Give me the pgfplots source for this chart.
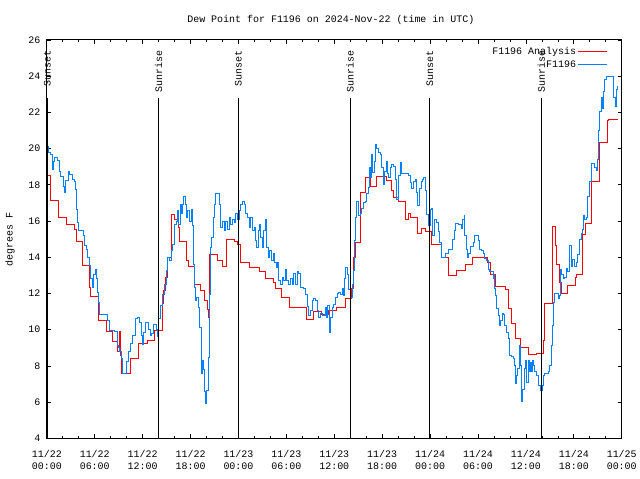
\documentclass[border=0pt]{standalone}
\usepackage{fontspec}
\setmainfont{Liberation Mono}
\setmonofont{Liberation Mono}
\usepackage{pgfplots}
\pgfplotsset{compat=1.18}
\usepackage{pgfplotstable}
\definecolor{obsblue}{RGB}{0,128,255}

% hours since 11/22 00:00 UTC, dew point in F
\pgfplotstableread{
h v
0.0 18.5
0.5 17.14
1.5 16.19
2.5 15.82
3.5 15.55
3.71 14.87
4.5 13.53
5.3 12.34
5.5 11.86
6.45 10.5
7.5 9.9
8.25 9.33
8.9 8.77
9.1 9.9
9.23 8.58
9.36 7.57
10.5 8.4
11.5 9.22
12.57 9.41
13.48 9.96
14.44 11.42
14.6 12.16
14.85 12.9
15.14 14.0
15.6 16.34
15.97 16.1
16.45 15.64
16.6 14.87
17.45 13.8
17.72 13.48
18.47 12.52
19.3 12.16
19.72 11.6
20.09 11.1
20.3 10.7
20.42 14.17
21.38 13.84
21.96 13.5
22.46 15.0
23.46 14.85
23.9 14.7
24.29 13.72
25.33 13.44
26.58 13.22
27.41 12.8
28.45 12.62
28.7 12.3
29.45 11.79
30.45 11.2
32.57 10.54
33.38 10.98
34.44 10.84
35.31 11.06
36.31 11.2
37.4 11.7
38.1 12.3
38.35 14.0
38.65 14.8
39.34 17.6
39.89 18.4
40.52 17.93
41.34 18.48
42.55 18.24
43.17 17.7
43.42 17.3
44.05 17.05
44.92 16.1
45.3 16.4
45.55 16.2
46.36 15.33
46.92 15.6
47.42 15.42
48.23 14.72
49.41 14.0
50.29 13.02
51.29 13.26
52.41 13.62
53.28 14.0
55.15 13.7
55.53 13.07
56.21 12.4
57.4 12.2
57.78 11.15
58.15 10.32
58.65 9.5
59.34 9.0
60.27 8.64
61.27 8.71
62.14 9.4
62.35 11.42
63.32 15.68
63.73 14.63
63.89 13.62
64.26 12.62
64.42 12.0
65.26 12.43
66.22 12.89
66.39 13.07
67.13 15.27
67.47 15.86
68.17 18.2
69.22 20.32
70.25 21.54
70.4 21.6
71.5 21.6
}\analysis

\pgfplotstableread{
h v
0.09 20.13
0.25 19.77
0.46 19.67
0.66 18.85
0.79 19.31
1.0 19.5
1.34 19.36
1.53 18.76
1.75 18.48
2.03 17.93
2.16 17.57
2.33 18.21
2.66 18.76
2.87 18.57
3.16 18.3
3.41 18.2
3.58 17.75
3.71 16.65
3.83 15.92
3.91 15.46
4.40 15.46
4.53 15.18
4.74 14.63
4.95 14.45
5.15 14.0
5.37 13.53
5.49 12.8
5.70 12.34
5.86 13.07
6.08 13.35
6.20 12.8
6.33 12.07
6.49 11.52
6.61 10.82
7.24 10.82
7.65 10.5
7.86 9.96
8.49 9.9
8.82 9.13
8.98 9.0
9.15 8.77
9.32 8.4
9.45 7.57
9.86 7.57
10.02 8.22
10.23 8.77
10.48 9.22
10.77 9.68
11.07 10.6
11.32 10.7
11.60 10.4
11.82 9.7
11.94 9.2
12.10 9.86
12.32 10.4
12.52 10.4
12.73 10.0
12.98 9.7
13.14 9.8
13.39 10.3
13.60 10.3
13.76 10.0
13.89 9.6
14.01 10.6
14.23 11.35
14.51 11.97
14.72 12.52
14.94 13.26
15.14 14.0
15.35 13.8
15.56 14.36
15.76 14.72
15.97 15.82
16.18 16.0
16.38 16.56
16.51 15.8
16.68 16.92
16.81 16.4
17.01 16.9
17.13 17.33
17.31 16.9
17.43 16.19
17.63 16.56
17.84 16.0
18.06 16.65
18.26 15.73
18.38 13.62
18.55 12.34
18.68 11.6
18.80 11.8
18.97 11.24
19.18 10.14
19.34 8.49
19.43 7.57
19.50 8.3
19.63 7.8
19.80 6.57
19.93 5.92
20.05 6.65
20.21 8.49
20.34 11.97
20.46 14.54
20.63 15.09
20.84 16.19
21.00 16.92
21.18 17.5
21.37 17.5
21.59 16.9
21.80 15.64
22.00 16.0
22.21 15.46
22.42 16.0
22.62 15.55
22.84 16.2
23.05 15.82
23.25 16.1
23.46 15.9
23.67 16.4
23.87 16.1
24.08 16.56
24.29 16.9
24.49 17.1
24.71 16.9
24.92 16.4
25.12 16.2
25.33 15.64
25.54 16.2
25.74 15.46
25.95 15.64
26.17 14.9
26.29 14.55
26.45 15.46
26.58 15.82
26.79 15.09
26.99 14.54
27.12 15.46
27.33 16.1
27.49 14.54
27.70 14.0
27.91 14.36
28.11 13.8
28.33 14.2
28.54 13.7
28.79 13.43
28.95 13.7
29.07 12.7
29.29 12.5
29.49 12.9
29.70 12.7
29.91 13.35
30.03 12.7
30.32 12.5
30.53 12.8
30.73 12.5
30.95 13.1
31.16 12.5
31.36 13.2
31.57 13.1
31.78 12.33
32.11 12.3
32.41 11.97
32.61 11.3
32.82 10.78
33.03 11.05
33.23 11.6
33.44 11.7
33.65 11.6
33.85 11.05
34.07 10.7
34.28 10.9
34.48 10.78
34.90 11.2
35.03 10.7
35.19 11.35
35.40 9.87
35.53 10.7
35.72 11.2
35.94 11.4
36.15 11.8
36.35 12.0
36.56 12.04
36.77 11.97
36.97 12.3
37.10 11.87
37.27 12.8
37.43 13.44
37.60 13.07
37.81 12.2
38.02 11.8
38.22 12.5
38.35 13.26
38.52 14.9
38.68 16.19
38.84 17.1
39.06 16.3
39.27 16.4
39.47 16.7
39.68 17.0
39.89 17.1
40.09 17.5
40.30 17.84
40.43 18.94
40.59 18.4
40.72 19.67
40.84 18.7
41.02 19.3
41.14 20.22
41.34 20.0
41.55 19.8
41.76 19.67
41.96 18.94
42.18 18.0
42.30 18.76
42.51 19.3
42.67 18.6
42.84 18.4
43.01 18.94
43.21 19.1
43.42 19.03
43.64 18.3
43.84 17.2
44.05 18.5
44.26 19.22
44.46 18.6
45.08 18.6
45.30 18.5
45.51 18.1
45.71 17.8
45.92 18.2
46.13 18.3
46.33 17.6
46.46 16.83
46.63 17.8
46.88 18.2
47.04 18.3
47.20 18.4
47.38 17.7
47.58 16.37
47.79 15.73
48.00 16.65
48.20 16.7
48.32 15.18
48.54 16.1
48.70 16.1
48.83 15.9
49.04 15.4
49.16 14.82
49.38 14.64
49.45 14.0
49.78 14.0
49.95 14.2
50.29 14.45
50.62 14.45
50.79 15.0
51.04 15.46
51.20 15.88
51.53 15.8
51.87 15.75
51.95 15.6
52.07 16.1
52.25 16.28
52.37 15.18
52.57 14.45
52.70 14.0
52.87 14.2
53.07 14.6
53.28 14.6
53.41 14.82
53.62 15.18
53.82 15.18
54.03 14.9
54.24 14.45
54.44 14.36
54.65 14.2
54.87 13.94
55.07 13.8
55.28 13.35
55.49 13.2
55.69 13.2
55.90 12.8
56.03 13.05
56.11 12.25
56.24 11.88
56.36 11.15
56.53 10.78
56.65 10.23
56.86 10.5
57.03 10.9
57.24 10.85
57.36 10.23
57.56 9.87
57.78 9.5
57.90 8.58
58.19 8.5
58.40 8.4
58.52 8.03
58.68 7.02
58.81 7.5
58.93 7.85
59.15 9.13
59.27 8.0
59.43 6.02
59.56 6.7
59.77 7.85
59.93 8.3
60.06 7.1
60.27 8.3
60.39 7.67
60.56 8.2
60.68 7.7
60.81 8.3
60.98 8.0
61.11 7.67
61.30 7.5
61.43 7.5
61.60 6.93
61.85 6.66
62.02 6.93
62.14 7.5
62.35 7.6
62.77 7.67
62.98 8.0
63.18 9.13
63.30 10.23
63.48 11.52
63.60 11.98
64.01 11.98
64.14 11.7
64.26 11.9
64.35 13.35
64.51 13.07
64.67 12.8
64.85 12.9
65.05 13.4
65.26 13.2
65.47 14.67
65.67 13.5
65.88 13.9
66.10 13.5
66.30 13.7
66.51 14.17
66.72 15.0
66.92 15.3
67.05 15.55
67.22 16.28
67.35 16.1
67.54 16.2
67.76 17.38
67.97 18.2
68.17 19.2
68.38 19.2
68.59 18.95
68.79 18.8
69.00 19.4
69.13 21.0
69.22 22.06
69.42 22.8
69.55 22.2
69.72 23.16
69.84 23.8
70.13 23.98
70.87 24.0
71.00 22.8
71.16 22.33
71.29 23.25
71.50 23.43
}\observed

\begin{document}
\begin{tikzpicture}
\begin{axis}[
  scale only axis, width=577pt, height=400pt,
  xmin=0, xmax=72, ymin=4, ymax=26,
  xtick={0,6,...,72}, minor x tick num=2,
  xticklabels={{11/22\\00:00},{11/22\\06:00},{11/22\\12:00},{11/22\\18:00},
    {11/23\\00:00},{11/23\\06:00},{11/23\\12:00},{11/23\\18:00},
    {11/24\\00:00},{11/24\\06:00},{11/24\\12:00},{11/24\\18:00},{11/25\\00:00}},
  xticklabel style={align=center, font=\fontsize{10}{12}\selectfont, yshift=-8pt},
  ytick={4,6,...,26},
  yticklabel style={font=\fontsize{10}{12}\selectfont, xshift=-3pt},
  /pgf/number format/assume math mode=true,
  tick align=inside,
  major tick length=4pt, minor tick length=2.5pt,
  every tick/.style={black, line width=0.7pt},
  axis line style={black, line width=0.8pt},
  clip=false,
  legend cell align=right,
  legend plot pos=right,
  legend image code/.code={\draw[#1] (0pt,0pt) -- (29pt,0pt);},
  legend style={draw=none, fill=none, at={(rel axis cs:0.978,0.99)}, anchor=north east,
    font=\fontsize{10}{12}\selectfont, row sep=1pt, inner sep=1pt},
]
\addplot[const plot, red, line width=1pt] table[x=h, y=v] {\analysis};
\addlegendentry{F1196 Analysis}
\addplot[const plot, obsblue, line width=1pt] table[x=h, y=v] {\observed};
\addlegendentry{F1196}

\foreach \t/\lab in {0.05/Sunset, 14.0/Sunrise, 23.97/Sunset, 37.97/Sunrise, 47.96/Sunset, 61.93/Sunrise}{
  \edef\tmp{\noexpand\draw[black, line width=0.8pt] (axis cs:\t,4) -- (axis cs:\t,22.81);
    \noexpand\node[rotate=90, anchor=east, inner sep=0pt, xshift=1.5pt, font=\noexpand\fontsize{10}{12}\noexpand\selectfont] at (axis cs:\t,25.35) {\lab};}
  \tmp
}

\node[font=\fontsize{10}{12}\selectfont] at (rel axis cs:0.494,1.05) {Dew Point for F1196 on 2024-Nov-22 (time in UTC)};
\node[rotate=90, font=\fontsize{10}{12}\selectfont] at (rel axis cs:-0.064,0.5) {degrees F};
\end{axis}
\path[use as bounding box] (-47pt,-40pt) rectangle (593pt,440pt);
\end{tikzpicture}
\end{document}
